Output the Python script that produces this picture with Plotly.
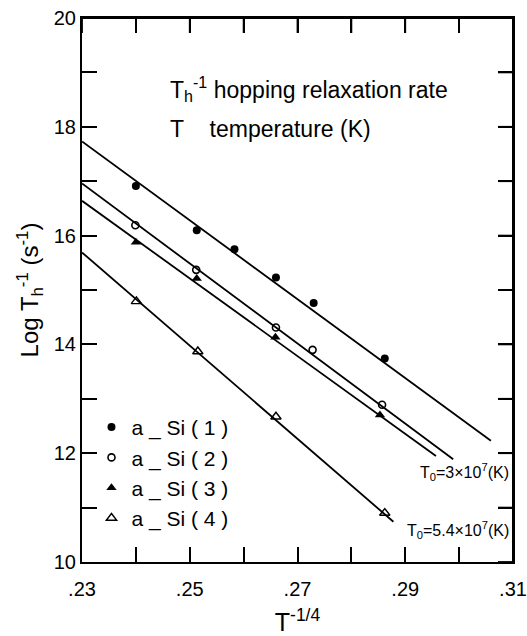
import plotly.graph_objects as go

# ---- data ----
series_names = ["a _ Si ( 1 )", "a _ Si ( 2 )", "a _ Si ( 3 )", "a _ Si ( 4 )"]

x_si1 = [0.2400, 0.2513, 0.2583, 0.2660, 0.2730, 0.2862]
y_si1 = [16.91, 16.10, 15.75, 15.23, 14.76, 13.74]

x_si2 = [0.2399, 0.2512, 0.2660, 0.2728, 0.2857]
y_si2 = [16.19, 15.37, 14.31, 13.90, 12.89]

x_si3 = [0.2400, 0.2513, 0.2659, 0.2853]
y_si3 = [15.88, 15.21, 14.13, 12.70]

x_si4 = [0.2401, 0.2515, 0.2660, 0.2862]
y_si4 = [14.79, 13.87, 12.67, 10.90]

# fitted straight lines (start / end)
fit_x_start = [0.23, 0.23, 0.23, 0.23]
fit_x_end = [0.3059, 0.2989, 0.2957, 0.2878]
fit_y_start = [17.73, 16.96, 16.64, 15.69]
fit_y_end = [12.23, 11.89, 11.95, 10.74]

x_range = [0.23, 0.31]
y_range = [10, 20]
x_tick_vals = [0.23, 0.24, 0.25, 0.26, 0.27, 0.28, 0.29, 0.30, 0.31]
x_tick_text = [".23", "", ".25", "", ".27", "", ".29", "", ".31"]
y_tick_vals = [10, 11, 12, 13, 14, 15, 16, 17, 18, 19, 20]
y_tick_text = ["10", "", "12", "", "14", "", "16", "", "18", "", "20"]

FONT = "Liberation Sans, Arial, sans-serif"

fig = go.Figure()

for i in range(4):
    fig.add_trace(go.Scatter(
        x=[fit_x_start[i], fit_x_end[i]], y=[fit_y_start[i], fit_y_end[i]],
        mode="lines", line=dict(color="black", width=1.8),
        showlegend=False, hoverinfo="skip"))

markers = [
    dict(symbol="circle", size=8, color="black"),
    dict(symbol="circle-open", size=7, color="black", line=dict(width=1.6)),
    dict(symbol="triangle-up", size=9, color="black"),
    dict(symbol="triangle-up-open", size=9, color="black", line=dict(width=1.4)),
]
xs = [x_si1, x_si2, x_si3, x_si4]
ys = [y_si1, y_si2, y_si3, y_si4]
for i in range(4):
    fig.add_trace(go.Scatter(
        x=xs[i], y=ys[i], mode="markers", name=series_names[i],
        marker=markers[i]))

fig.add_annotation(x=0.2460, y=18.70, xref="x", yref="y", xanchor="left", yanchor="middle",
                   text="T<sub>h</sub><sup>-1</sup> hopping relaxation rate",
                   showarrow=False, font=dict(family=FONT, size=23, color="black"))
fig.add_annotation(x=0.2460, y=17.96, xref="x", yref="y", xanchor="left", yanchor="middle",
                   text="T\u00a0\u00a0\u00a0\u00a0temperature (K)",
                   showarrow=False, font=dict(family=FONT, size=23, color="black"))
fig.add_annotation(x=0.995, y=0.165, xref="paper", yref="paper", xanchor="right", yanchor="middle",
                   text="T<sub>0</sub>=3×10<sup>7</sup>(K)",
                   showarrow=False, font=dict(family=FONT, size=16, color="black"))
fig.add_annotation(x=0.995, y=0.059, xref="paper", yref="paper", xanchor="right", yanchor="middle",
                   text="T<sub>0</sub>=5.4×10<sup>7</sup>(K)",
                   showarrow=False, font=dict(family=FONT, size=16, color="black"))

# frame on top and right, with inside ticks at the axis tick values
frame_line = dict(color="black", width=2)
fig.add_shape(type="line", xref="paper", yref="paper", x0=0, x1=1, y0=1, y1=1, line=frame_line)
fig.add_shape(type="line", xref="paper", yref="paper", x0=1, x1=1, y0=0, y1=1, line=frame_line)
for xv in x_tick_vals:
    fig.add_shape(type="line", xref="x", yref="paper", ysizemode="pixel", yanchor=1,
                  x0=xv, x1=xv, y0=0, y1=-15, line=dict(color="black", width=1.8))
for yv in y_tick_vals:
    fig.add_shape(type="line", xref="paper", yref="y", xsizemode="pixel", xanchor=1,
                  y0=yv, y1=yv, x0=0, x1=-15, line=dict(color="black", width=1.8))

axis_common = dict(ticks="inside", ticklen=15, tickwidth=1.8, tickcolor="black",
                   showline=True, linecolor="black", linewidth=2, mirror="ticks",
                   showgrid=False, zeroline=False, automargin=False)

fig.update_layout(
    width=527, height=636,
    margin=dict(l=82, r=14, t=18, b=74),
    plot_bgcolor="white", paper_bgcolor="white",
    font=dict(family=FONT, color="black"),
    showlegend=True,
    legend=dict(x=0.022, y=0.285, xanchor="left", yanchor="top",
                bgcolor="rgba(0,0,0,0)", font=dict(size=21, family=FONT),
                itemsizing="trace"),
    xaxis=dict(range=x_range, tickvals=x_tick_vals, ticktext=x_tick_text,
               ticklabeloverflow="allow", ticklabelstandoff=8,
               tickfont=dict(size=20, family=FONT),
               title=dict(text="T<sup>-1/4</sup>", font=dict(size=25, family=FONT), standoff=18),
               **axis_common),
    yaxis=dict(range=y_range, tickvals=y_tick_vals, ticktext=y_tick_text,
               tickfont=dict(size=20, family=FONT),
               title=dict(text="Log T<sub>h</sub><sup>-1</sup> (s<sup>-1</sup>)",
                          font=dict(size=24, family=FONT), standoff=8),
               **axis_common),
)

fig.write_html("out.html")
